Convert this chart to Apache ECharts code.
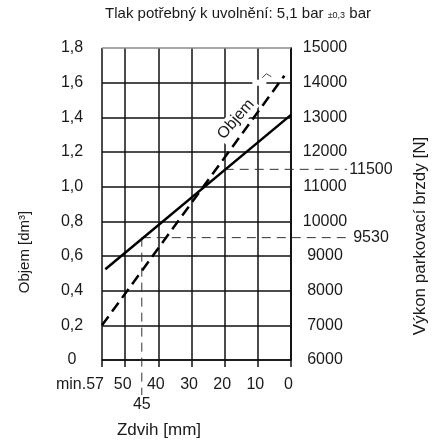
<!DOCTYPE html>
<html>
<head>
<meta charset="utf-8">
<script src="https://cdn.jsdelivr.net/npm/echarts@6/dist/echarts.min.js"></script>
<style>
  html, body { margin: 0; padding: 0; background: #fff; }
  #chart { width: 433px; height: 444px; }
</style>
</head>
<body>
<div id="chart"></div>
<script>
// Zdvih [mm] -> výkon [N] (plná čára, pravá osa)
const forceData = [[56, 8620], [0, 13070]];
// Zdvih [mm] -> objem [dm3] (čárkovaná čára, levá osa)
const volumeData = [[57, 0.2], [2, 1.64]];
// odečtené body: [zdvih, výkon, svislá čára dolů]
const refPoints = [[45, 9530, 1], [20, 11500, 0]];
const strokeMax = 57;

const FONT = "'Liberation Sans', Arial, sans-serif";
const TXT = '#1a1a1a';
const GRID = '#111';
const GW = 1.5;

const chart = echarts.init(document.getElementById('chart'));

const option = {
  animation: false,
  grid: { left: 102, right: 142, top: 48, bottom: 84, outerBoundsMode: 'none' },
  xAxis: {
    type: 'value',
    min: 0,
    max: strokeMax,
    interval: 10,
    inverse: true,
    axisLine: { lineStyle: { color: GRID, width: GW } },
    axisTick: { show: true, length: 7, lineStyle: { color: GRID, width: GW } },
    splitLine: { show: true, lineStyle: { color: GRID, width: GW } },
    axisLabel: {
      margin: 17,
      fontSize: 16,
      fontFamily: FONT,
      color: TXT,
      formatter: v => (v === strokeMax ? '{m|min.' + v + '}' : '{n|' + v + '}'),
      rich: {
        m: { fontSize: 16, fontFamily: FONT, color: TXT, padding: [0, 44, 0, 0] },
        n: { fontSize: 16, fontFamily: FONT, color: TXT, padding: [0, 5, 0, 0] }
      }
    }
  },
  yAxis: [
    {
      type: 'value',
      position: 'left',
      min: 0,
      max: 1.8,
      interval: 0.2,
      axisLine: { show: true, lineStyle: { color: GRID, width: GW } },
      axisTick: { show: false },
      splitLine: { show: true, showMaxLine: false, lineStyle: { color: GRID, width: GW } },
      axisLabel: {
        margin: 30,
        align: 'center',
        fontSize: 16,
        fontFamily: FONT,
        color: TXT,
        formatter: v => (v === 0 ? '0' : v.toFixed(1).replace('.', ','))
      }
    },
    {
      type: 'value',
      position: 'right',
      min: 6000,
      max: 15000,
      interval: 1000,
      axisLine: { show: true, lineStyle: { color: GRID, width: GW } },
      axisTick: { show: false },
      splitLine: { show: false },
      axisLabel: {
        margin: 34,
        align: 'center',
        fontSize: 16,
        fontFamily: FONT,
        color: TXT,
        formatter: v => String(v)
      }
    }
  ],
  series: [
    {
      name: 'Výkon',
      type: 'line',
      yAxisIndex: 1,
      data: forceData,
      symbol: 'none',
      lineStyle: { color: '#000', width: 2.5 },
      z: 4
    },
    {
      name: 'Objem',
      type: 'line',
      yAxisIndex: 0,
      data: volumeData,
      symbol: 'none',
      lineStyle: { color: '#000', width: 2.5, type: [11, 6] },
      z: 4
    },
    {
      name: 'odečet',
      type: 'custom',
      yAxisIndex: 1,
      data: refPoints,
      clip: false,
      z: 3,
      renderItem: function (params, api) {
        const p = api.coord([api.value(0), api.value(1)]);
        const cs = params.coordSys;
        const right = cs.x + cs.width;
        const bottom = cs.y + cs.height;
        const dash = { stroke: '#333', lineWidth: 1, lineDash: [9, 6] };
        const children = [
          { type: 'line', shape: { x1: p[0], y1: p[1], x2: right + 56, y2: p[1] }, style: dash },
          {
            type: 'text', x: right + 80, y: p[1],
            style: { text: String(api.value(1)), font: '16px ' + FONT, fill: TXT, align: 'center', verticalAlign: 'middle' }
          }
        ];
        if (api.value(2)) {
          children.push({ type: 'line', shape: { x1: p[0], y1: p[1], x2: p[0], y2: bottom + 35 }, style: dash });
          children.push({
            type: 'text', x: p[0], y: bottom + 37,
            style: { text: String(api.value(0)), font: '16px ' + FONT, fill: TXT, align: 'center', verticalAlign: 'top' }
          });
        }
        return { type: 'group', children: children };
      }
    }
  ]
};

chart.setOption(option);

// popisky a názvy os; "Objem" podél čárkované čáry
const endPx = chart.convertToPixel({ xAxisIndex: 0, yAxisIndex: 0 }, volumeData[volumeData.length - 1]);
const topY = chart.convertToPixel({ yAxisIndex: 0 }, 1.8);
const x0 = chart.convertToPixel({ xAxisIndex: 0 }, strokeMax);
const x1 = chart.convertToPixel({ xAxisIndex: 0 }, 0);
chart.setOption({
  graphic: [
    {
      id: 'title', type: 'text', x: 238, y: 14,
      style: {
        text: '{n|Tlak potřebný k uvolnění: 5,1 bar }{s|±0,3}{n| bar}',
        align: 'center', verticalAlign: 'middle',
        rich: {
          n: { fontSize: 15, fontFamily: FONT, fill: TXT },
          s: { fontSize: 9, fontFamily: FONT, fill: TXT, padding: [4, 0, 0, 0] }
        }
      }
    },
    {
      id: 'nameLeft', type: 'text', x: 25, y: 252, rotation: Math.PI / 2,
      style: { text: 'Objem [dm³]', font: '15px ' + FONT, fill: TXT, align: 'center', verticalAlign: 'middle' }
    },
    {
      id: 'nameRight', type: 'text', x: 420, y: 236, rotation: Math.PI / 2,
      style: { text: 'Výkon parkovací brzdy [N]', font: '17px ' + FONT, fill: TXT, align: 'center', verticalAlign: 'middle' }
    },
    {
      id: 'nameBottom', type: 'text', x: 159, y: 430,
      style: { text: 'Zdvih [mm]', font: '17px ' + FONT, fill: TXT, align: 'center', verticalAlign: 'middle' }
    },
    {
      // horní okraj mřížky je šedý
      id: 'topEdge', type: 'line', z: 1,
      shape: { x1: x0, y1: topY, x2: x1, y2: topY },
      style: { stroke: '#8a8a8a', lineWidth: 1.5 }
    },
    {
      id: 'gap', type: 'rect', z: 10,
      shape: { x: endPx[0] - 32, y: endPx[1] + 4, width: 14, height: 6 },
      style: { fill: '#fff' }
    },
    {
      id: 'objemLabel', type: 'text', z: 11,
      x: endPx[0] - 48.5, y: endPx[1] + 43.5, rotation: 49 * Math.PI / 180,
      style: {
        text: 'Objem', font: '16px ' + FONT, fill: TXT, align: 'center', verticalAlign: 'middle',
        backgroundColor: '#fff', padding: [1, 2]
      }
    },
    {
      id: 'hook', type: 'polyline', z: 11,
      shape: { points: [[endPx[0] - 22, endPx[1] + 2], [endPx[0] - 18, endPx[1] - 2], [endPx[0] - 13, endPx[1] + 1]] },
      style: { stroke: '#444', lineWidth: 1, fill: null }
    }
  ]
});

window.addEventListener('resize', () => chart.resize());
</script>
</body>
</html>
